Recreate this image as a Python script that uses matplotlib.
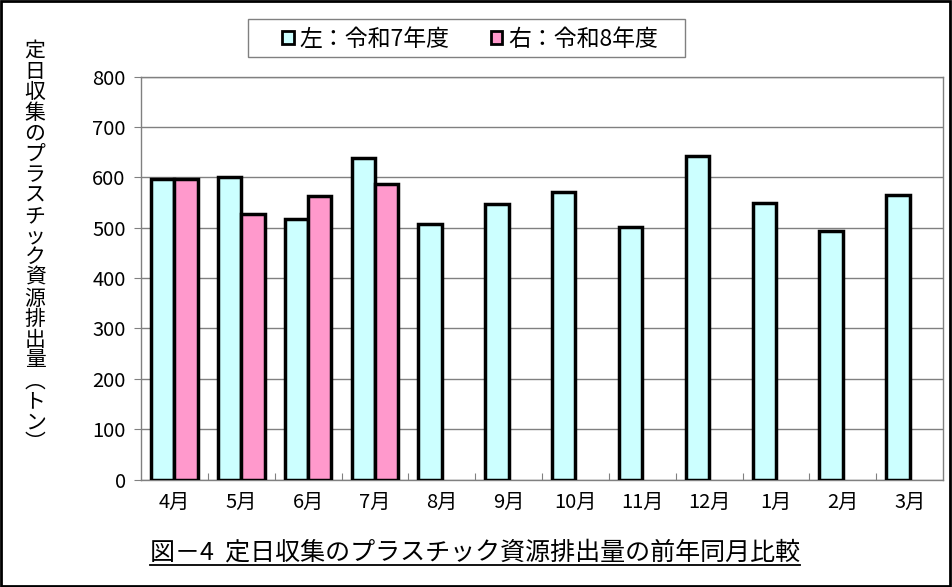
import numpy as np
import matplotlib.pyplot as plt
from matplotlib.patches import Patch, Rectangle
from matplotlib.lines import Line2D

plt.rcParams['font.family'] = ['Noto Sans CJK JP', 'DejaVu Sans']

# data (tons)
months = ['4月', '5月', '6月', '7月', '8月', '9月', '10月', '11月', '12月', '1月', '2月', '3月']
r7 = [596, 600, 517, 638, 508, 547, 571, 501, 642, 549, 493, 566]
r8 = [597, 527, 563, 587]
legend_labels = ['左：令和7年度', '右：令和8年度']
ylabel = '定日収集のプラスチック資源排出量︵トン︶'
title = '図－4  定日収集のプラスチック資源排出量の前年同月比較'

c7 = '#CCFFFF'
c8 = '#FF99CC'

fig = plt.figure(figsize=(9.52, 5.87), dpi=100)
ax = fig.add_axes([141 / 952, 1 - 479.5 / 587, 802 / 952, 402.8 / 587])

x = np.arange(len(months))
w = 0.35
ax.bar(x + 0.5 - w, r7, width=w, align='edge', color=c7, edgecolor='black', linewidth=2.5, zorder=3)
ax.bar(x[:len(r8)] + 0.5, r8, width=w, align='edge', color=c8, edgecolor='black', linewidth=2.5, zorder=3)

ax.set_xlim(0, len(months))
ax.set_ylim(0, 800)
ax.set_yticks(range(0, 801, 100))
ax.yaxis.grid(True, color='#808080', linewidth=1)
ax.set_axisbelow(True)
ax.tick_params(axis='y', labelsize=14.5, length=5, color='#808080', pad=6)

ax.set_xticks(np.arange(1, len(months)))
ax.set_xticklabels([])
ax.tick_params(axis='x', which='major', direction='in', length=5, color='#808080')
ax.set_xticks(x + 0.5, minor=True)
ax.set_xticklabels(months, minor=True, fontsize=14.5)
ax.tick_params(axis='x', which='minor', length=0, pad=9)

for s in ax.spines.values():
    s.set_color('#808080')
    s.set_linewidth(1)

# vertical y-axis label, one character per line
n = len(ylabel)
y0, y1 = 1 - 51 / 587, 1 - 443 / 587
for i, ch in enumerate(ylabel):
    fig.text(35 / 952, y0 + (y1 - y0) * i / (n - 1), ch, fontsize=15,
             ha='center', va='center')

# legend, with its box drawn separately
handles = [Patch(facecolor=c7, edgecolor='black', linewidth=2),
           Patch(facecolor=c8, edgecolor='black', linewidth=2)]
leg = fig.legend(handles, legend_labels, ncol=2, loc='center',
                 bbox_to_anchor=(470 / 952, 1 - 39 / 587), fontsize=16.5,
                 frameon=False, handlelength=0.5, handleheight=0.5,
                 handletextpad=0.25, columnspacing=1.8, borderaxespad=0)
fig.add_artist(Rectangle((248 / 952, 1 - 57 / 587), 437 / 952, 38 / 587, fill=False,
                         edgecolor='#808080', linewidth=1, transform=fig.transFigure))

# title with underline
t = fig.text(475 / 952, 1 - 553 / 587, title, fontsize=18, ha='center', va='center')
fig.canvas.draw()
bb = t.get_window_extent().transformed(fig.transFigure.inverted())
uy = bb.y0 + 0.002
fig.add_artist(Line2D([bb.x0, bb.x1], [uy, uy], color='black', linewidth=1.3,
                      transform=fig.transFigure))

# outer frame
fig.add_artist(Rectangle((0.001, 0.002), 0.997, 0.996, fill=False, edgecolor='black',
                         linewidth=2, transform=fig.transFigure))

fig.savefig('out.png', dpi=100)
